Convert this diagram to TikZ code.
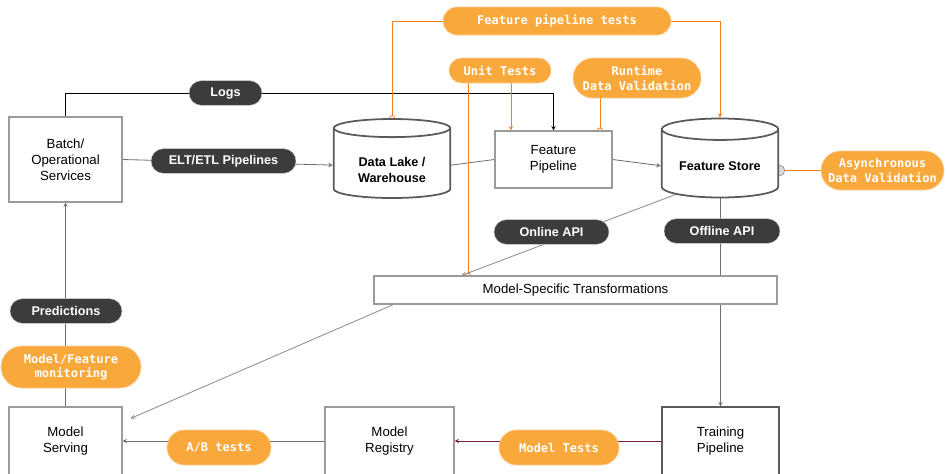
\documentclass[tikz,border=0pt]{standalone}
\usepackage{fontspec}
\setmainfont{Liberation Sans}
\setmonofont{DejaVu Sans Mono}
\usepackage{tikz}
\usetikzlibrary{positioning, arrows, arrows.meta, shapes.geometric, shapes.misc, backgrounds}
\definecolor{pilldark}{HTML}{3C3C3C}
\definecolor{testorange}{HTML}{F9A83C}
\definecolor{testrim}{HTML}{FCCF95}
\definecolor{linkorange}{HTML}{F57F17}
\definecolor{linkgray}{HTML}{6E6E6E}
\definecolor{boxgray}{HTML}{9A9A9A}
\definecolor{storegray}{HTML}{5A5A5A}
\definecolor{testmaroon}{HTML}{7B1E3F}
\tikzstyle{box} = [rectangle, draw=boxgray, fill=white, line width=0.9pt,
align=center, font=\fontsize{11.3}{13.6}\selectfont]
\tikzstyle{store} = [cylinder, shape border rotate=90, aspect=0.24, draw=storegray,
fill=white, line width=1.5pt, align=center, font=\bfseries\fontsize{10.8}{13.6}\selectfont,
minimum width=3.5cm, minimum height=2.37cm]
\tikzstyle{dpill} = [rounded rectangle, fill=pilldark, draw=gray!40, line width=0.4pt,
text=white, font=\bfseries\fontsize{10.8}{13}\selectfont, inner sep=0pt, minimum height=0.74cm]
\tikzstyle{opill} = [rounded rectangle, fill=testorange, draw=testrim, line width=0.6pt,
text=white, align=center, font=\ttfamily\bfseries\fontsize{10.3}{12.4}\selectfont, inner sep=0pt]
\tikzstyle{arrow} = [line width=0.7pt,->,>=stealth]
\tikzstyle{link} = [line width=0.7pt]
\tikzstyle{probe} = [line width=0.7pt, draw=linkorange, -{Circle[open,length=5pt,width=5pt]}, shorten >=-2.5pt]

\begin{document}
\begin{tikzpicture}[x=0.03cm, y=-0.03cm]
        \useasboundingbox (0,0) rectangle (947,473);
        \clip (0,0) rectangle (947,473);
        % boxes
        \node (Batch) [box, minimum width=3.39cm, minimum height=2.55cm] at (65.5,159.5) {Batch/\\Operational\\Services};
        \node (FeatPipe) [box, minimum width=3.51cm, minimum height=1.71cm] at (553.5,159.5) {Feature\\Pipeline};
        \node (Transform) [box, minimum width=12.09cm, minimum height=0.84cm] at (575.5,290) {Model-Specific Transformations};
        \node (Serving) [box, minimum width=3.39cm, minimum height=2.04cm] at (65.5,441) {Model\\Serving};
        \node (Registry) [box, minimum width=3.87cm, minimum height=2.04cm] at (389.5,441) {Model\\Registry};
        \node (Training) [box, draw=storegray, minimum width=3.51cm, minimum height=2.04cm] at (720.5,441) {Training\\Pipeline};
        % stores
        \node (Lake) [store, anchor=shape center, text height=29pt] at (392,158.5) {Data Lake /\\Warehouse};
        \node (Store) [store, anchor=shape center] at (720,158) {Feature Store};
        % labels on the links
        \node (Logs) [dpill, minimum width=2.19cm] at (225.5,93) {Logs};
        \node (ELT) [dpill, minimum width=4.35cm] at (223.5,161) {ELT/ETL Pipelines};
        \node (Online) [dpill, minimum width=3.45cm] at (551.5,232) {Online API};
        \node (Offline) [dpill, minimum width=3.48cm] at (722,231) {Offline API};
        \node (Predictions) [dpill, minimum width=3.36cm] at (66,311) {Predictions};
        % tests
        \node (PipeTests) [opill, minimum width=6.84cm, minimum height=0.84cm] at (557,21) {Feature pipeline tests};
        \node (UnitTests) [opill, minimum width=3.06cm, minimum height=0.75cm] at (500,70.5) {Unit Tests};
        \node (Runtime) [opill, minimum width=3.84cm, minimum height=1.2cm] at (637,78) {Runtime\\Data Validation};
        \node (Async) [opill, minimum width=3.69cm, minimum height=1.17cm] at (882.5,170.5) {Asynchronous\\Data Validation};
        \node (Monitoring) [opill, minimum width=4.2cm, minimum height=1.26cm] at (71,367) {Model/Feature\\monitoring};
        \node (ABTests) [opill, minimum width=3.12cm, minimum height=1.05cm] at (219,447.5) {A/B tests};
        \node (ModelTests) [opill, minimum width=3.6cm, minimum height=1.05cm] at (559,447.5) {Model Tests};

        \coordinate (UnitLeft) at ([xshift=-0.96cm]UnitTests.south);
        \coordinate (UnitRight) at ([xshift=0.33cm]UnitTests.south);
        \coordinate (RuntimeLeft) at ([xshift=-1.11cm]Runtime.south);
        \coordinate (OnlineFrom) at ([shift={(-0.18cm,0.15cm)}]Store.south west);
        \coordinate (OnlineTo) at ([xshift=2.64cm]Transform.north west);
        \coordinate (ServeFrom) at ([xshift=0.6cm]Transform.south west);
        \coordinate (ServeTo) at ([shift={(0.24cm,-0.36cm)}]Serving.north east);

        \begin{scope}[on background layer]
        \draw [arrow, black] (Batch.north) |- (Logs) -| (FeatPipe.north);
        \draw [arrow, linkgray] (Batch.east) -- (Lake.west);
        \draw [link, linkgray] (Lake.east) -- (FeatPipe.west);
        \draw [arrow, linkgray] (FeatPipe.east) -- (Store.west);
        \draw [arrow, linkorange] (PipeTests.east) -| (Store.north);
        \draw [probe] (PipeTests.west) -| (Lake.north);
        \draw [probe] (UnitLeft) -- (UnitLeft |- Transform.north);
        \draw [arrow, linkorange] (UnitRight) -- (UnitRight |- FeatPipe.north);
        \draw [probe] (RuntimeLeft) -- (RuntimeLeft |- FeatPipe.north);
        \draw [probe, shorten >=-5pt, -{Circle[length=10pt,width=10pt,fill=gray!30,color=gray!80]}] (Async.west) -- (Async.west -| Store.east);
        \draw [arrow, linkgray!80] (OnlineFrom) -- (OnlineTo);
        \draw [link, linkgray] (Store.south) -- (Store.south |- Transform.north);
        \draw [arrow, linkgray] (Training.north |- Transform.south) -- (Training.north);
        \draw [arrow, linkgray!80] (ServeFrom) -- (ServeTo);
        \draw [arrow, testmaroon] (Training.west) -- (Registry.east);
        \draw [arrow, linkgray] (Registry.west) -- (Serving.east);
        \draw [arrow, linkgray] (Serving.north) -- (Batch.south);
        \end{scope}
\end{tikzpicture}
\end{document}
